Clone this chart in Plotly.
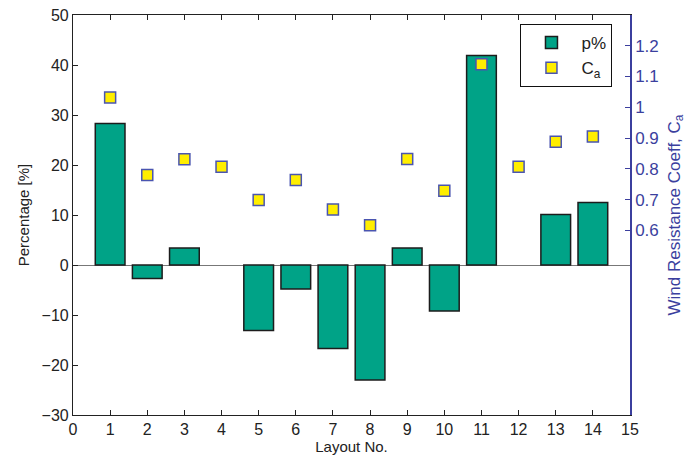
import plotly.graph_objects as go

layouts = list(range(1, 15))
p_percent = [28.3, -2.7, 3.4, None, -13.1, -4.8, -16.7, -23.0, 3.4, -9.2, 41.9, None, 10.1, 12.5]
ca_values = [1.032, 0.780, 0.831, 0.807, 0.699, 0.764, 0.668, 0.617, 0.832, 0.729, 1.140, 0.807, 0.888, 0.905]

x_ticks = list(range(0, 16))
y_ticks = [-30, -20, -10, 0, 10, 20, 30, 40, 50]
y2_ticks = [0.6, 0.7, 0.8, 0.9, 1.0, 1.1, 1.2]
y2_ticktext = ["0.6", "0.7", "0.8", "0.9", "1", "1.1", "1.2"]

FONT = "Liberation Sans, Arial, sans-serif"
BLUE = "#3b3f9e"

fig = go.Figure()
fig.add_trace(go.Bar(
    x=layouts, y=p_percent, name="p%", width=0.8,
    marker=dict(color="#00a387", line=dict(color="#1c1c1c", width=1.5)),
    yaxis="y",
))
fig.add_trace(go.Scatter(
    x=layouts, y=ca_values, name="C<sub>a</sub>", mode="markers",
    marker=dict(symbol="square", size=11, color="#ffee00",
                line=dict(color="#4a55b0", width=1.5)),
    yaxis="y2",
))

fig.update_layout(
    width=697, height=465,
    margin=dict(l=73, r=67, t=15, b=50, autoexpand=False),
    plot_bgcolor="white", paper_bgcolor="white",
    font=dict(family=FONT, size=16, color="#222"),
    showlegend=True,
    legend=dict(x=0.803, y=0.978, xanchor="left", yanchor="top",
                bordercolor="#111", borderwidth=1.2, bgcolor="white",
                itemwidth=50, font=dict(size=17, color="#222")),
    xaxis=dict(range=[0, 15], tickvals=x_ticks, showline=True, linecolor="#222",
               linewidth=1.2, mirror="ticks", ticks="inside", ticklen=5,
               tickcolor="#222", showgrid=False, zeroline=False, automargin=False,
               title=dict(text="Layout No.", font=dict(size=15), standoff=4)),
    yaxis=dict(range=[-30, 50], tickvals=y_ticks, showline=True, linecolor="#222",
               linewidth=1.2, ticks="inside", ticklen=5, tickcolor="#222",
               showgrid=False, zeroline=True, zerolinecolor="#777", zerolinewidth=1.2,
               automargin=False,
               title=dict(text="Percentage [%]", font=dict(size=15), standoff=8)),
    yaxis2=dict(range=[0, 1.3], overlaying="y", side="right", tickvals=y2_ticks,
                ticktext=y2_ticktext, showline=True, linecolor=BLUE, linewidth=1.5,
                ticks="inside", ticklen=5, tickcolor=BLUE, showgrid=False,
                zeroline=False, tickfont=dict(color=BLUE, size=17), automargin=False,
                title=dict(text="Wind Resistance Coeff, C<sub>a</sub>",
                           font=dict(color=BLUE, size=17), standoff=10)),
    bargap=0.2,
)

fig.write_html("out.html", config={"displayModeBar": False},
               post_script="document.body.style.margin='0';")
